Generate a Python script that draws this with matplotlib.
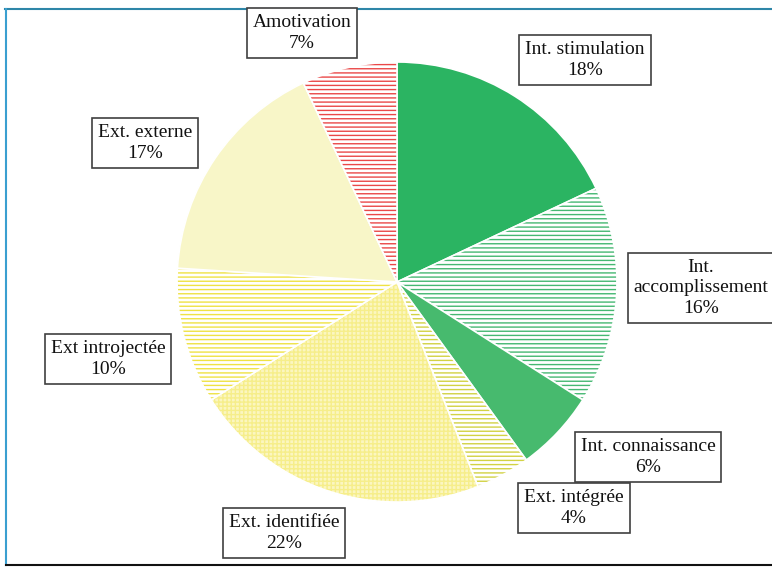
import matplotlib.pyplot as plt
import matplotlib.colors as mcolors
from matplotlib.lines import Line2D

labels = ["Int. stimulation", "Int.\naccomplissement", "Int. connaissance", "Ext. intégrée",
          "Ext. identifiée", "Ext introjectée", "Ext. externe", "Amotivation"]
values = [18, 16, 6, 4, 22, 10, 17, 7]
faces = ["#2BB462", "white", "#47BA6E", "white", "#FBF6C0", "white", "#F8F6C8", "white"]
hatches = [None, "----", None, "----", "++++", "----", None, "----"]
hatch_cols = [None, "#45B872", None, "#D2D244", "#F6EE8A", "#EFE244", None, "#EA4848"]
# label box centres in pixel coords (x, y from top)
label_pos = [(585, 60), (701, 288), (648, 457), (574, 508), (284, 533), (108, 359), (145, 143), (302, 33)]

plt.rcParams["hatch.linewidth"] = 1.0

W, H = 772, 567
fig = plt.figure(figsize=(W / 100, H / 100), dpi=100)
ax = fig.add_axes([0, 0, 1, 1])

wedges, _ = ax.pie(values, startangle=90, counterclock=False, center=(397, H - 282),
                   radius=220, colors=faces, frame=True,
                   wedgeprops=dict(edgecolor="white", linewidth=1.2))
ax.set_xlim(0, W)
ax.set_ylim(0, H)
ax.set_aspect("equal")
ax.axis("off")

for w, h, hc in zip(wedges, hatches, hatch_cols):
    if h:
        w.set_hatch(h)
        w._hatch_color = mcolors.to_rgba(hc)
        if hasattr(w, "set_hatchcolor"):
            w.set_hatchcolor(hc)

for lab, v, (x, y) in zip(labels, values, label_pos):
    ax.text(x, H - y, f"{lab}\n{v}%", ha="center", va="center", fontsize=14,
            family="Liberation Serif", color="#111111", linespacing=1.3,
            bbox=dict(boxstyle="square,pad=0.3", fc="white", ec="#404040", lw=1.2))

# outer frame
ax.add_line(Line2D([5, W], [H - 8.5, H - 8.5], color="#2E86A8", lw=1.5))
ax.add_line(Line2D([6, 6], [H - 8.5, H - 565], color="#3A9FD0", lw=1.5))
ax.add_line(Line2D([6, W], [H - 565, H - 565], color="#111111", lw=1.5))

fig.savefig("out.png", dpi=100)
